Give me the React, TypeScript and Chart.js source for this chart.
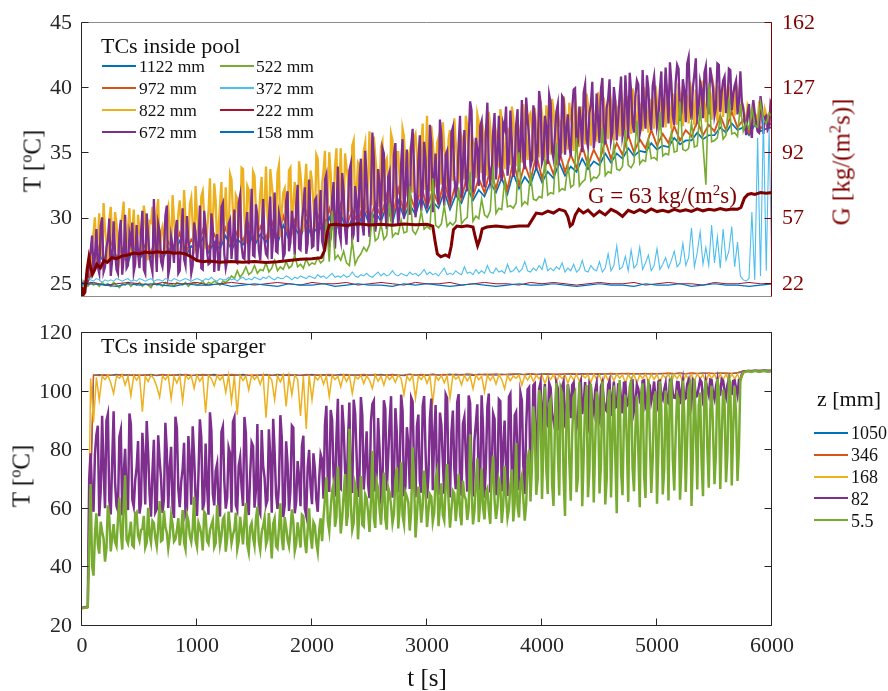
import React, { useEffect, useRef } from 'react';
import { Chart, registerables } from 'chart.js';
Chart.register(...registerables);

const FONT = "'Liberation Serif', 'Times New Roman', serif";

// sampling steps of the recorded signals [s]
const DT_FINE = 25;
const DT_MID = 50;
const DT_COARSE = 100;

// ---------- TCs inside pool (°C) ----------
const poolLabels = ['1122 mm', '972 mm', '822 mm', '672 mm', '522 mm', '372 mm', '222 mm', '158 mm'];
const poolColors = ['#0072BD', '#D95319', '#EDB120', '#7E2F8E', '#77AC30', '#4DBEEE', '#A2142F', '#0072BD'];
const poolWidths = [1.7, 1.9, 2.3, 2.3, 1.6, 1.1, 1, 1.2];

// step DT_MID
const pool1122 = [
  25.0, 25.1, 26.2, 27.3, 26.5, 27.6, 26.7, 27.2, 26.6, 27.9,
  26.9, 27.5, 27.0, 28.0, 26.9, 27.7, 27.3, 28.3, 27.1, 27.9,
  27.5, 28.5, 27.4, 28.2, 27.7, 28.7, 27.6, 28.4, 28.0, 29.0,
  27.9, 28.8, 28.2, 29.2, 28.1, 29.5, 28.4, 29.3, 28.6, 29.8,
  28.5, 29.6, 28.9, 30.1, 28.8, 30.4, 29.1, 30.0, 29.3, 30.7,
  29.5, 30.5, 29.8, 31.0, 29.7, 31.4, 30.1, 31.1, 30.3, 31.7,
  30.5, 31.3, 30.8, 32.1, 30.7, 31.8, 31.2, 32.4, 31.4, 32.2,
  31.7, 32.8, 32.0, 33.1, 31.9, 33.5, 32.3, 33.2, 32.6, 33.9,
  32.8, 33.6, 33.1, 34.3, 33.3, 34.0, 33.6, 34.6, 33.8, 34.4,
  34.1, 35.0, 34.3, 35.0, 34.6, 35.4, 34.8, 35.2, 35.1, 35.8,
  35.3, 35.6, 35.5, 36.2, 35.7, 36.0, 36.0, 36.6, 36.1, 36.4,
  36.4, 37.0, 36.6, 37.3, 36.8, 37.0, 36.4, 37.2, 36.7, 36.9,
  37.0,
];
// step DT_MID
const pool972 = [
  25.1, 25.2, 26.4, 27.9, 26.8, 28.3, 27.0, 27.7, 26.9, 28.5,
  27.2, 28.0, 27.4, 28.6, 27.1, 28.2, 27.6, 28.9, 27.3, 28.4,
  27.8, 29.1, 27.7, 28.8, 28.0, 29.3, 27.9, 29.0, 28.3, 29.6,
  28.1, 29.4, 28.5, 29.8, 28.4, 30.2, 28.7, 29.9, 28.9, 30.5,
  28.8, 30.3, 29.2, 30.8, 29.0, 31.1, 29.4, 30.7, 29.6, 31.4,
  29.8, 31.2, 30.1, 31.8, 30.0, 32.3, 30.4, 31.9, 30.6, 32.6,
  30.8, 32.2, 31.1, 33.0, 31.0, 32.7, 31.5, 33.4, 31.7, 33.1,
  32.0, 33.8, 32.3, 34.0, 32.2, 34.5, 32.6, 34.2, 32.9, 34.9,
  33.1, 34.6, 33.4, 35.2, 33.6, 34.9, 33.9, 35.6, 34.1, 35.3,
  34.4, 36.0, 34.6, 35.8, 34.9, 36.4, 35.1, 36.1, 35.4, 36.8,
  35.6, 36.5, 35.8, 37.1, 36.0, 36.8, 36.3, 37.5, 36.4, 37.2,
  36.7, 37.9, 36.8, 38.2, 37.0, 37.6, 36.6, 37.9, 36.9, 37.4,
  37.2,
];
// step DT_FINE, samples at t = k*DT_FINE
const pool822 = [
  25.1, 25.0, 25.2, 26.5, 28.9, 26.6, 30.4, 27.2, 29.1, 26.8,
  30.9, 27.5, 29.6, 27.0, 30.2, 26.9, 29.3, 27.4, 30.7, 27.1,
  29.0, 27.6, 30.1, 26.8, 29.7, 27.3, 30.5, 27.0, 29.4, 27.8,
  31.0, 27.2, 29.9, 27.5, 31.4, 27.6, 30.0, 27.9, 31.6, 27.3,
  30.3, 28.0, 32.1, 27.7, 30.6, 28.2, 32.7, 27.8, 31.1, 28.4,
  32.4, 28.0, 33.0, 28.3, 31.5, 28.6, 33.8, 28.1, 32.2, 28.7,
  33.3, 28.4, 31.9, 28.9, 34.0, 28.5, 32.6, 29.0, 33.5, 28.6,
  32.0, 29.2, 33.7, 28.8, 32.8, 29.3, 33.4, 29.0, 34.2, 29.5,
  32.9, 29.2, 34.6, 29.6, 33.6, 30.0, 35.1, 29.8, 34.0, 30.3,
  35.4, 30.1, 33.9, 30.5, 35.6, 30.4, 34.3, 30.8, 35.2, 30.6,
  36.7, 31.0, 34.8, 30.9, 35.5, 31.3, 34.6, 31.1, 36.0, 31.5,
  35.1, 31.4, 36.3, 31.7, 35.2, 32.0, 36.5, 31.8, 35.6, 32.2,
  37.9, 32.1, 35.9, 32.4, 36.2, 32.6, 35.4, 32.5, 36.8, 32.9,
  35.8, 32.7, 36.4, 33.0, 37.1, 33.2, 36.0, 33.1, 37.4, 33.5,
  36.3, 33.3, 37.0, 33.7, 36.6, 33.9, 37.6, 33.8, 36.9, 34.1,
  37.8, 34.0, 36.7, 34.3, 37.3, 34.5, 38.1, 34.4, 37.0, 34.7,
  38.0, 34.6, 37.5, 34.9, 38.3, 35.1, 37.2, 35.0, 38.5, 35.3,
  37.7, 35.2, 38.2, 35.5, 37.6, 35.7, 38.7, 35.6, 37.9, 35.9,
  38.8, 35.8, 37.8, 36.1, 39.0, 36.0, 38.1, 36.3, 38.9, 36.2,
  38.0, 36.5, 39.2, 36.4, 38.4, 36.7, 39.3, 36.6, 38.2, 36.9,
  39.1, 36.8, 38.6, 37.0, 39.4, 36.9, 38.5, 37.2, 39.5, 37.1,
  38.7, 37.3, 39.6, 37.2, 38.8, 37.5, 39.7, 37.4, 38.9, 37.6,
  39.8, 37.5, 38.6, 37.8, 39.5, 37.7, 38.9, 37.9, 39.9, 37.8,
  38.6, 37.2, 38.4, 36.9, 37.8, 37.3, 38.6, 37.1, 38.0, 37.5,
  38.3,
];
// samples at t = k*DT_FINE + DT_FINE/2
const pool822b = [
  25.0, 25.1, 27.0, 27.9, 30.1, 28.4, 27.6, 31.2, 28.2, 29.9,
  28.6, 30.5, 27.7, 29.5, 31.3, 28.0, 30.8, 28.9, 27.9, 30.3,
  28.5, 31.0, 28.1, 29.8, 30.9, 27.9, 31.5, 29.0, 28.3, 30.6,
  29.2, 31.8, 28.4, 30.4, 29.7, 32.2, 28.8, 31.1, 29.5, 32.5,
  28.9, 31.7, 30.2, 29.0, 33.1, 29.6, 31.4, 29.3, 32.8, 30.0,
  29.4, 33.4, 30.5, 31.8, 29.6, 33.9, 30.1, 32.5, 29.8, 33.6,
  30.7, 29.9, 33.2, 31.0, 30.3, 33.8, 31.5, 29.8, 34.1, 30.6,
  32.3, 30.1, 33.9, 31.2, 30.4, 34.4, 31.7, 32.6, 30.5, 33.7,
  31.1, 34.9, 30.8, 32.7, 35.2, 31.4, 33.5, 30.9, 35.4, 32.0,
  31.6, 35.0, 33.1, 31.3, 36.0, 32.2, 34.1, 31.9, 35.8, 33.0,
  32.4, 36.3, 33.6, 32.1, 35.9, 34.3, 32.8, 36.5, 33.2, 35.1,
  32.9, 36.9, 33.8, 34.7, 33.0, 36.2, 34.9, 33.4, 37.3, 34.0,
  33.6, 37.1, 34.4, 35.8, 33.8, 37.4, 34.6, 36.1, 34.2, 37.7,
  34.3, 36.6, 35.2, 37.9, 34.8, 36.4, 35.6, 38.0, 34.9, 36.9,
  35.5, 38.2, 35.0, 37.3, 36.1, 38.4, 35.4, 37.0, 36.5, 38.6,
  35.8, 37.6, 36.7, 38.8, 35.9, 37.9, 36.9, 38.5, 36.2, 39.0,
  36.4, 38.7, 37.1, 39.2, 36.6, 38.3, 37.4, 39.4, 36.8, 38.9,
  37.3, 39.5, 36.9, 38.6, 37.8, 39.6, 37.2, 38.9, 38.0, 39.7,
  37.4, 39.3, 38.2, 39.8, 37.6, 39.1, 38.5, 39.9, 37.9, 39.4,
  38.6, 40.0, 37.8, 39.5, 38.7, 40.1, 38.1, 39.2, 38.9, 40.2,
  38.3, 39.7, 38.8, 40.3, 38.4, 39.6, 39.0, 40.4, 38.5, 39.8,
  39.1, 40.5, 38.6, 39.9, 39.2, 40.6, 38.7, 40.0, 39.3, 40.4,
  38.9, 40.2, 39.4, 40.7, 38.8, 40.1, 39.5, 40.3, 39.0, 38.9,
  37.8, 38.7, 37.4, 38.2, 37.9, 38.8, 37.6, 38.4, 37.7, 38.5,
];
// samples at t = k*DT_FINE
const pool672 = [
  25.1, 25.0, 25.2, 27.5, 26.0, 29.2, 25.8, 30.1, 26.3, 28.4,
  25.6, 29.8, 26.1, 28.9, 25.7, 30.3, 26.4, 28.1, 25.9, 29.5,
  26.2, 30.6, 25.8, 28.7, 26.5, 31.5, 25.9, 29.0, 26.3, 30.2,
  25.7, 28.6, 26.6, 29.9, 26.0, 30.8, 26.4, 28.3, 25.8, 29.7,
  26.7, 31.0, 26.1, 29.3, 26.5, 30.4, 25.9, 28.8, 26.8, 31.2,
  26.2, 29.6, 26.9, 30.7, 26.6, 31.8, 27.0, 29.4, 26.5, 32.3,
  27.1, 30.2, 26.8, 31.5, 27.3, 30.0, 26.9, 32.0, 27.4, 29.8,
  27.0, 31.3, 27.5, 30.6, 27.2, 32.6, 27.6, 30.9, 27.3, 33.0,
  27.8, 31.4, 27.5, 32.2, 27.8, 33.4, 28.0, 31.6, 27.7, 34.0,
  28.3, 32.1, 28.0, 33.7, 28.4, 32.5, 28.2, 34.6, 28.7, 33.0,
  28.6, 36.6, 29.0, 33.8, 29.4, 35.0, 29.2, 33.6, 29.7, 35.8,
  29.5, 34.2, 30.0, 35.3, 30.3, 36.9, 30.1, 34.5, 30.6, 35.9,
  30.8, 37.2, 30.5, 35.0, 31.1, 36.4, 31.0, 35.2, 31.5, 37.0,
  31.7, 35.7, 31.6, 36.8, 32.1, 39.0, 32.0, 36.2, 32.5, 37.5,
  32.4, 38.9, 32.8, 36.6, 33.0, 37.9, 32.9, 36.9, 33.3, 38.3,
  33.2, 37.2, 33.6, 39.1, 33.8, 37.6, 34.0, 38.7, 33.8, 39.8,
  34.3, 37.9, 34.2, 38.9, 34.6, 38.2, 34.5, 39.4, 34.9, 38.0,
  34.8, 39.9, 35.2, 38.6, 35.1, 40.3, 35.5, 38.8, 35.4, 39.6,
  35.8, 40.8, 35.7, 39.2, 36.0, 40.1, 36.0, 39.5, 36.3, 41.0,
  36.2, 39.8, 36.6, 40.6, 36.5, 41.4, 36.9, 40.0, 36.8, 40.9,
  37.1, 39.9, 37.0, 41.6, 37.3, 40.4, 37.2, 41.8, 37.5, 40.7,
  37.4, 42.4, 37.6, 41.1, 37.8, 40.5, 37.7, 41.7, 38.0, 40.8,
  37.9, 41.9, 38.2, 40.6, 38.1, 41.5, 38.3, 40.2, 38.0, 41.3,
  38.4, 36.4, 38.8, 36.2, 38.1, 36.7, 39.4, 36.5, 37.9, 37.0,
  38.6,
];
// samples at t = k*DT_FINE + DT_FINE/2
const pool672b = [
  25.0, 25.1, 26.8, 28.7, 27.1, 26.3, 29.4, 25.9, 27.8, 30.0,
  26.8, 27.5, 25.8, 29.9, 27.0, 26.2, 28.8, 29.7, 26.5, 27.3,
  28.9, 26.1, 30.4, 27.2, 25.9, 28.2, 29.6, 26.7, 27.4, 31.0,
  26.3, 27.9, 29.1, 25.8, 28.4, 26.9, 30.2, 27.6, 26.4, 29.0,
  28.1, 26.2, 30.6, 27.5, 26.6, 29.3, 28.0, 26.0, 30.9, 27.3,
  26.8, 29.9, 28.4, 26.7, 31.2, 27.9, 26.9, 30.5, 28.8, 27.2,
  31.1, 27.6, 29.0, 28.3, 27.1, 31.7, 28.6, 27.5, 30.4, 29.1,
  27.3, 32.1, 28.2, 29.5, 31.0, 27.7, 29.8, 32.4, 28.1, 30.2,
  27.9, 31.6, 29.4, 28.3, 33.0, 29.7, 28.5, 32.8, 30.1, 28.9,
  33.5, 29.2, 30.8, 34.2, 28.8, 31.4, 33.1, 29.6, 35.2, 30.3,
  31.9, 34.7, 29.8, 32.6, 35.4, 30.5, 33.2, 29.9, 34.9, 31.6,
  30.7, 36.1, 32.4, 31.0, 35.6, 33.9, 31.2, 36.4, 32.0, 34.6,
  31.5, 35.8, 33.4, 32.1, 37.6, 32.8, 34.9, 31.9, 36.6, 33.3,
  32.6, 37.9, 34.1, 32.9, 36.1, 38.3, 33.5, 35.4, 37.1, 33.1,
  36.7, 34.2, 33.4, 38.1, 35.0, 33.7, 37.3, 38.6, 34.4, 36.0,
  33.9, 38.4, 35.6, 34.6, 39.3, 36.3, 34.5, 37.8, 35.1, 38.9,
  34.7, 37.1, 39.5, 35.2, 36.5, 38.8, 35.0, 39.2, 36.9, 35.6,
  38.4, 40.0, 35.9, 37.4, 39.7, 36.1, 38.1, 40.5, 36.4, 37.6,
  39.9, 36.8, 38.5, 40.7, 36.6, 39.0, 37.7, 40.9, 36.9, 38.8,
  41.2, 37.3, 39.4, 40.3, 37.1, 38.6, 41.0, 37.6, 40.2, 39.1,
  37.8, 41.3, 38.9, 39.6, 42.0, 37.9, 40.5, 41.5, 38.2, 39.8,
  41.9, 38.6, 40.1, 42.3, 38.4, 39.9, 41.2, 38.7, 41.6, 40.0,
  38.5, 41.8, 39.7, 40.9, 38.8, 41.4, 39.5, 40.6, 38.9, 39.0,
  37.5, 38.0, 36.9, 39.1, 37.3, 36.6, 38.5, 37.8, 36.8, 38.9,
];
// step DT_FINE
const pool522 = [
  24.9, 25.0, 24.8, 25.1, 24.9, 25.0, 24.8, 25.1, 24.9, 25.0,
  24.8, 25.1, 24.9, 24.7, 25.0, 24.9, 25.1, 24.8, 25.0, 24.9,
  25.1, 24.8, 25.0, 24.9, 24.7, 25.1, 24.9, 25.0, 24.8, 25.1,
  24.9, 25.0, 24.8, 25.1, 25.0, 24.9, 25.1, 24.8, 25.0, 25.1,
  24.9, 25.0, 25.2, 24.9, 25.1, 25.0, 25.2, 25.1, 24.9, 25.2,
  25.1, 25.3, 25.6, 25.4, 26.0, 25.5, 25.8, 26.3, 25.7, 25.9,
  26.4, 25.8, 26.1, 26.0, 26.6, 25.9, 26.2, 26.8, 26.0, 26.3,
  26.1, 26.7, 26.2, 26.4, 27.2, 26.3, 26.5, 26.2, 26.9, 26.4,
  26.6, 26.5, 27.0, 26.6, 26.8, 29.8, 26.7, 30.6, 26.9, 27.2,
  26.8, 27.5, 26.6, 26.4, 28.3, 26.5, 27.0, 27.3, 27.8, 27.5,
  28.0, 30.2, 28.3, 28.5, 29.6, 28.4, 28.7, 31.2, 28.6, 28.9,
  28.8, 29.9, 28.9, 29.0, 32.5, 29.1, 28.8, 29.3, 30.6, 29.2,
  29.4, 29.2, 33.1, 29.5, 29.3, 29.6, 31.0, 29.4, 29.7, 29.5,
  29.8, 32.4, 29.6, 29.9, 30.1, 33.6, 29.8, 30.2, 30.0, 31.5,
  30.3, 30.1, 30.6, 34.0, 30.4, 30.8, 30.7, 32.9, 30.9, 31.0,
  30.8, 31.2, 35.1, 31.0, 31.3, 31.1, 33.4, 31.5, 31.4, 31.7,
  31.6, 34.6, 31.8, 32.0, 31.9, 35.8, 32.1, 32.3, 32.2, 34.1,
  32.4, 32.6, 36.2, 32.5, 32.8, 33.0, 34.9, 32.9, 33.2, 33.1,
  33.4, 37.0, 33.3, 33.6, 33.5, 35.7, 33.8, 33.7, 34.0, 36.8,
  34.1, 33.9, 34.3, 37.5, 34.2, 34.5, 34.4, 36.1, 34.6, 34.7,
  34.5, 38.2, 34.8, 35.0, 34.9, 36.6, 35.1, 35.2, 39.0, 35.3,
  35.2, 35.4, 37.4, 35.5, 35.6, 38.6, 35.7, 32.6, 40.4, 35.9,
  36.0, 36.2, 37.8, 36.1, 36.4, 39.3, 36.5, 36.6, 36.3, 38.8,
  36.7, 37.4, 36.9, 38.5, 37.2, 37.0, 38.9, 37.6, 37.3, 38.1,
  37.8,
];
// step DT_FINE
const pool372 = [
  25.3, 25.2, 25.4, 25.3, 25.2, 25.4, 25.3, 25.1, 25.3, 25.2,
  25.3, 25.2, 25.4, 25.3, 25.2, 25.3, 25.4, 25.2, 25.3, 25.2,
  25.4, 25.3, 25.2, 25.3, 25.4, 25.2, 25.3, 25.3, 25.2, 25.4,
  25.3, 25.2, 25.4, 25.3, 25.2, 25.3, 25.4, 25.3, 25.2, 25.3,
  25.4, 25.3, 25.2, 25.4, 25.3, 25.5, 25.3, 25.2, 25.4, 25.3,
  25.3, 25.5, 25.3, 25.4, 25.2, 25.4, 25.5, 25.3, 25.4, 25.3,
  25.5, 25.4, 25.3, 25.5, 25.4, 25.6, 25.4, 25.3, 25.5, 25.4,
  25.4, 25.6, 25.5, 25.3, 25.5, 25.4, 25.6, 25.5, 25.4, 25.6,
  25.5, 25.4, 25.7, 25.5, 25.6, 25.4, 25.6, 25.8, 25.5, 25.6,
  25.5, 25.7, 25.5, 25.6, 25.9, 25.6, 25.5, 25.7, 25.6, 25.8,
  25.6, 25.5, 25.7, 25.9, 25.6, 25.8, 25.6, 25.7, 26.0, 25.7,
  25.6, 25.8, 25.7, 25.6, 25.9, 25.7, 25.8, 25.6, 25.8, 26.1,
  25.7, 25.9, 25.7, 25.8, 25.6, 25.9, 26.2, 25.7, 25.8, 25.7,
  26.0, 25.8, 25.7, 26.3, 25.8, 25.9, 25.7, 26.1, 25.8, 26.0,
  25.8, 26.4, 25.9, 25.8, 26.2, 25.9, 26.0, 25.8, 26.5, 25.9,
  26.0, 26.3, 25.9, 26.1, 26.7, 26.0, 25.9, 26.2, 26.0, 26.4,
  26.1, 26.9, 26.0, 26.2, 26.0, 26.3, 26.1, 26.6, 25.9, 26.2,
  26.0, 26.5, 25.9, 26.1, 26.8, 26.0, 25.9, 26.4, 26.1, 26.0,
  26.7, 25.9, 26.2, 27.3, 26.0, 26.4, 27.9, 26.1, 26.3, 27.1,
  26.0, 27.6, 26.2, 26.5, 27.8, 26.1, 26.6, 27.2, 26.0, 26.4,
  27.7, 26.1, 26.5, 27.0, 26.2, 26.8, 27.5, 26.3, 26.6, 28.1,
  26.4, 27.0, 29.3, 26.3, 27.4, 29.0, 26.5, 27.8, 26.4, 29.5,
  26.6, 28.6, 26.2, 29.2, 26.8, 27.5, 29.4, 26.3, 28.2, 25.6,
  25.3, 25.2, 25.4, 30.5, 25.3, 36.2, 25.6, 37.8, 26.0, 36.9,
  25.4,
];
// step DT_COARSE
const pool222 = [
  25.0, 25.1, 24.9, 25.0, 25.1, 25.0, 24.9, 25.1, 25.0, 25.0,
  25.1, 24.9, 25.0, 25.1, 25.0, 24.9, 25.0, 25.1, 25.0, 24.9,
  25.1, 25.0, 25.0, 25.1, 24.9, 25.0, 25.1, 25.0, 24.9, 25.1,
  25.0, 25.0, 25.1, 24.9, 25.0, 25.1, 25.0, 25.0, 24.9, 25.1,
  25.0, 25.1, 25.0, 24.9, 25.0, 25.1, 25.0, 25.0, 25.1, 24.9,
  25.0, 25.1, 25.0, 25.0, 24.9, 25.1, 25.0, 25.0, 25.1, 25.0,
  25.0,
];
// step DT_COARSE
const pool158 = [
  24.9, 25.0, 24.9, 24.8, 25.0, 24.9, 25.0, 24.9, 24.8, 25.0,
  24.9, 24.9, 25.0, 24.8, 24.9, 25.0, 24.9, 24.8, 25.0, 24.9,
  24.9, 25.0, 24.8, 24.9, 25.0, 24.9, 24.9, 24.8, 25.0, 24.9,
  25.0, 24.9, 24.8, 24.9, 25.0, 24.9, 24.8, 24.9, 25.0, 24.9,
  24.9, 25.0, 24.9, 24.8, 24.9, 25.0, 24.9, 24.9, 24.8, 25.0,
  24.9, 24.9, 25.0, 24.8, 24.9, 25.0, 24.9, 24.9, 24.8, 24.9,
  25.0,
];

// ---------- steam mass flux G [kg/(m2 s)] ----------
const gTime = [
  0, 10, 25, 45, 60, 75, 90, 110, 130, 160, 190, 220, 260, 300, 350, 400, 450, 500, 550, 600,
  650, 700, 750, 800, 850, 900, 950, 1000, 1050, 1100, 1200, 1300, 1400, 1500, 1600, 1700, 1800, 1900, 2000, 2080,
  2110, 2130, 2150, 2200, 2300, 2400, 2500, 2600, 2700, 2800, 2900, 3000, 3050, 3070, 3090, 3120, 3160, 3190, 3210, 3230,
  3260, 3300, 3350, 3400, 3420, 3440, 3460, 3480, 3520, 3600, 3700, 3800, 3880, 3920, 3950, 4000, 4050, 4100, 4150, 4200,
  4225, 4245, 4265, 4290, 4320, 4360, 4400, 4450, 4500, 4550, 4600, 4650, 4700, 4750, 4800, 4850, 4900, 4950, 5000, 5050,
  5100, 5150, 5200, 5250, 5300, 5350, 5400, 5450, 5500, 5550, 5600, 5650, 5700, 5730, 5760, 5790, 5820, 5850, 5900, 5950,
  6000,
];
const gFlux = [
  20.5, 16.0, 17.5, 30.0, 36.0, 31.0, 27.0, 29.5, 32.5, 30.5, 34.5, 33.5, 36.0, 35.5, 37.0, 37.5, 38.5, 38.0, 39.0, 38.6,
  39.2, 38.8, 39.0, 38.4, 38.7, 38.0, 36.5, 34.5, 33.8, 34.2, 33.6, 34.0, 33.5, 33.9, 33.4, 33.8, 34.5, 35.2, 35.5, 36.0,
  40.0, 49.0, 53.5, 54.0, 53.3, 54.2, 53.6, 54.0, 53.4, 54.1, 53.7, 54.0, 53.0, 45.0, 38.0, 36.5, 37.5, 36.5, 42.0, 51.0,
  53.0, 52.6, 53.2, 52.5, 47.0, 42.5, 46.0, 51.5, 52.5, 53.0, 52.4, 53.1, 53.0, 57.0, 60.0, 59.5, 61.0, 60.0, 62.0, 61.0,
  58.0, 53.0, 54.0, 59.0, 62.0, 60.0, 61.5, 58.5, 61.0, 59.0, 62.0, 60.5, 58.2, 61.5, 60.2, 61.8, 60.4, 62.2, 60.8, 61.5,
  60.6, 62.0, 61.0, 61.8, 60.9, 62.3, 61.2, 62.0, 61.5, 62.4, 61.6, 62.2, 62.0, 63.0, 68.0, 70.0, 70.5, 70.0, 71.0, 70.6,
  71.0,
];

// ---------- TCs inside sparger (°C) ----------
const spargerLabels = ['1050', '346', '168', '82', '5.5'];
const spargerColors = ['#0072BD', '#D95319', '#EDB120', '#7E2F8E', '#77AC30'];
const spargerWidths = [1.3, 1.3, 1.5, 2.5, 2.5];

// step DT_MID
const sp1050 = [
  26.1, 26.4, 105.6, 105.8, 105.5, 105.7, 105.9, 105.6, 105.8, 105.5,
  105.7, 105.6, 105.9, 105.5, 105.8, 105.7, 105.6, 105.9, 105.7, 105.5,
  105.8, 105.6, 105.7, 105.9, 105.5, 105.8, 105.6, 105.7, 105.9, 105.6,
  105.5, 105.8, 105.7, 105.6, 105.9, 105.7, 105.5, 105.8, 105.6, 105.7,
  105.9, 105.6, 105.8, 105.5, 105.7, 105.9, 105.6, 105.8, 105.7, 105.5,
  105.8, 105.7, 105.9, 105.6, 105.8, 105.7, 105.5, 105.9, 105.7, 105.8,
  105.6, 105.9, 105.7, 105.8, 106.0, 105.7, 105.9, 105.8, 105.6, 106.0,
  105.8, 105.9, 105.7, 106.0, 105.8, 105.9, 106.1, 105.8, 106.0, 105.9,
  106.1, 105.9, 106.0, 105.8, 106.1, 106.0, 105.9, 106.2, 106.0, 106.1,
  105.9, 106.2, 106.0, 106.1, 106.3, 106.0, 106.2, 106.1, 106.3, 106.0,
  106.2, 106.3, 106.1, 106.2, 106.4, 106.1, 106.3, 106.2, 106.4, 106.2,
  106.3, 106.4, 106.2, 106.3, 106.4, 107.0, 107.2, 107.3, 107.2, 107.4,
  107.3,
];
// step DT_MID
const sp346 = [
  26.0, 26.2, 105.7, 105.5, 105.8, 105.6, 105.7, 105.9, 105.5, 105.8,
  105.6, 105.8, 105.5, 105.7, 105.9, 105.6, 105.8, 105.5, 105.9, 105.7,
  105.6, 105.9, 105.8, 105.5, 105.7, 105.6, 105.9, 105.8, 105.5, 105.7,
  105.8, 105.6, 105.9, 105.7, 105.5, 105.8, 105.9, 105.6, 105.7, 105.9,
  105.6, 105.8, 105.7, 105.9, 105.6, 105.7, 105.9, 105.6, 105.8, 105.9,
  105.7, 105.9, 105.6, 105.8, 105.9, 105.7, 105.8, 106.0, 105.7, 105.9,
  105.8, 106.0, 105.8, 105.9, 105.7, 106.0, 105.8, 106.1, 105.9, 105.8,
  106.0, 105.9, 106.1, 105.8, 106.0, 106.1, 105.9, 106.0, 106.2, 105.9,
  106.0, 106.2, 105.9, 106.1, 106.0, 106.2, 106.1, 105.9, 106.2, 106.1,
  106.2, 106.0, 106.3, 106.1, 106.2, 106.3, 106.1, 106.2, 106.0, 106.3,
  106.1, 106.2, 106.4, 106.2, 106.3, 106.2, 106.4, 106.3, 106.2, 106.4,
  106.2, 106.3, 106.4, 106.2, 106.5, 107.1, 107.3, 107.2, 107.4, 107.3,
  107.4,
];
// step DT_FINE
const sp168 = [
  26.0, 26.3, 26.5, 104.6, 89.5, 104.9, 97.2, 105.3, 104.2, 105.6,
  103.1, 99.4, 105.4, 104.6, 105.7, 102.3, 105.2, 98.6, 105.5, 104.0,
  105.6, 93.2, 105.3, 103.5, 105.7, 104.4, 101.8, 98.2, 105.4, 104.1,
  105.6, 97.7, 105.2, 103.0, 105.5, 96.8, 105.6, 104.3, 105.4, 101.2,
  105.7, 103.6, 105.2, 92.8, 105.5, 104.5, 102.0, 105.6, 104.0, 105.3,
  99.8, 105.7, 96.7, 105.4, 92.2, 105.6, 103.8, 105.3, 100.6, 105.7,
  104.2, 105.4, 102.5, 105.6, 91.1, 105.3, 104.1, 97.2, 105.5, 103.4,
  105.7, 95.0, 105.2, 99.0, 105.6, 104.3, 91.7, 105.4, 87.3, 105.6,
  97.3, 105.2, 104.0, 105.7, 102.6, 105.4, 98.3, 105.6, 104.2, 105.3,
  101.7, 105.7, 103.5, 105.5, 99.4, 105.2, 104.4, 105.6, 102.8, 105.4,
  104.0, 101.1, 105.7, 103.6, 105.3, 102.3, 105.6, 104.1, 105.4, 103.2,
  105.7, 104.5, 99.0, 105.3, 103.8, 105.6, 97.8, 105.4, 104.2, 105.7,
  102.9, 105.5, 96.1, 105.3, 104.0, 105.6, 103.1, 105.4, 97.8, 105.7,
  104.3, 105.2, 102.4, 105.6, 103.7, 105.4, 101.0, 105.7, 104.1, 105.3,
  99.9, 105.6, 103.9, 105.5, 102.6, 105.8, 104.2, 101.0, 105.6, 103.8,
  105.4, 104.6, 105.7, 102.3, 105.5, 104.0, 105.8, 103.5, 105.6, 104.4,
  105.7, 102.8, 105.5, 104.2, 105.8, 103.3, 105.6, 104.5, 105.8, 102.9,
  105.6, 104.1, 105.9, 103.6, 105.7, 104.7, 105.8, 103.2, 105.9, 104.4,
  105.7, 102.7, 105.9, 104.0, 105.8, 103.8, 106.0, 104.6, 105.8, 103.1,
  105.9, 104.3, 106.0, 102.9, 105.8, 104.5, 106.0, 103.6, 105.9, 104.2,
  106.0, 103.0, 105.8, 104.7, 106.0, 103.4, 105.9, 104.5, 106.1, 102.8,
  105.9, 104.1, 106.0, 103.7, 106.1, 104.4, 105.9, 103.2, 106.1, 104.6,
  106.0, 103.5, 106.1, 104.2, 105.9, 103.9, 106.1, 104.5, 106.0, 103.4,
  106.2, 107.0, 107.1, 107.2, 107.0, 107.2, 107.1, 107.3, 107.2, 107.1,
  107.3,
];
// samples at t = k*DT_FINE
const sp82 = [
  26.2, 26.4, 26.6, 79.0, 59.0, 85.3, 57.5, 91.8, 60.2, 92.3,
  58.1, 93.3, 61.0, 84.7, 57.8, 80.5, 59.6, 88.9, 60.8, 74.2,
  58.4, 86.0, 61.5, 79.3, 57.3, 83.6, 59.9, 76.8, 58.6, 89.4,
  60.3, 81.2, 56.9, 87.5, 60.6, 73.5, 58.2, 84.9, 61.4, 78.0,
  57.6, 90.6, 59.5, 82.3, 58.0, 86.7, 61.2, 75.4, 57.4, 88.1,
  60.1, 80.9, 58.8, 91.2, 59.7, 77.6, 61.0, 85.8, 57.9, 82.7,
  60.4, 89.0, 58.3, 74.8, 61.3, 87.2, 58.7, 79.5, 60.0, 92.0,
  57.2, 83.1, 59.3, 88.4, 58.5, 76.3, 60.9, 85.0, 57.7, 80.2,
  61.6, 73.8, 59.0, 78.6, 63.5, 95.2, 65.8, 90.4, 64.2, 97.6,
  66.9, 88.1, 63.9, 96.3, 65.4, 92.7, 64.1, 98.2, 66.6, 86.5,
  63.7, 95.8, 65.9, 91.0, 64.6, 97.1, 66.2, 89.6, 63.8, 94.4,
  65.7, 99.0, 64.3, 87.9, 66.8, 96.7, 64.0, 92.2, 65.5, 98.5,
  63.6, 90.8, 66.4, 95.5, 64.8, 88.7, 65.2, 97.9, 63.9, 93.6,
  66.7, 99.2, 64.5, 91.4, 65.9, 96.0, 64.2, 89.3, 66.3, 98.8,
  63.8, 94.9, 65.6, 92.5, 64.7, 97.4, 66.0, 90.2, 64.4, 99.3,
  65.3, 93.1, 66.5, 97.0, 65.1, 100.8, 68.0, 102.2, 72.5, 101.0,
  84.0, 102.6, 88.5, 101.4, 90.2, 103.0, 86.8, 101.8, 89.5, 102.5,
  91.0, 103.1, 87.6, 102.0, 92.4, 103.3, 88.9, 101.6, 93.0, 102.9,
  90.3, 103.4, 94.1, 102.2, 91.7, 103.5, 95.0, 102.7, 92.6, 103.2,
  96.0, 103.6, 93.5, 102.4, 97.2, 103.7, 94.8, 103.0, 96.6, 103.5,
  95.3, 103.8, 97.5, 102.9, 96.1, 103.9, 98.0, 103.3, 95.8, 103.7,
  97.8, 104.0, 96.4, 103.5, 98.6, 104.1, 97.0, 103.6, 98.9, 104.0,
  97.5, 104.2, 99.0, 103.8, 98.2, 104.3, 99.4, 103.9, 98.8, 104.1,
  106.8, 107.0, 107.1, 107.0, 107.2, 107.1, 107.0, 107.2, 107.1, 107.0,
  107.2,
];
// samples at t = k*DT_FINE + DT_FINE/2
const sp82b = [
  26.3, 26.5, 70.0, 64.2, 78.6, 88.4, 66.0, 73.5, 90.1, 62.8,
  76.2, 68.9, 59.4, 87.0, 71.8, 64.5, 92.6, 63.1, 69.7, 83.2,
  61.9, 77.4, 90.0, 65.3, 72.6, 58.8, 85.1, 70.2, 63.4, 79.9,
  74.1, 60.7, 91.5, 66.8, 69.2, 82.6, 59.9, 76.7, 88.2, 64.0,
  71.4, 84.3, 62.6, 67.9, 93.0, 65.1, 73.0, 60.2, 86.3, 69.5,
  63.8, 78.9, 89.7, 61.4, 74.6, 67.3, 91.4, 62.0, 72.1, 81.5,
  66.4, 59.6, 86.9, 70.7, 63.0, 77.8, 90.8, 64.9, 68.3, 84.0,
  61.1, 75.5, 66.2, 87.7, 62.3, 71.0, 81.4, 60.0, 74.2, 67.6,
  79.0, 63.2, 70.4, 76.9, 88.6, 69.0, 93.8, 71.5, 84.4, 67.5,
  95.5, 73.2, 82.7, 68.1, 97.3, 78.8, 70.6, 91.9, 75.1, 68.7,
  89.8, 96.9, 72.0, 80.3, 67.4, 94.1, 77.6, 98.5, 69.9, 85.9,
  74.4, 93.5, 67.8, 81.9, 98.0, 72.7, 88.3, 69.3, 95.1, 79.4,
  71.2, 97.7, 84.8, 68.4, 92.9, 76.1, 99.1, 70.0, 86.2, 73.7,
  96.4, 68.2, 89.1, 78.3, 98.7, 71.7, 83.5, 95.7, 69.6, 87.4,
  75.8, 99.4, 72.3, 90.7, 68.9, 96.8, 80.9, 73.9, 98.3, 70.8,
  92.0, 77.2, 99.6, 74.8, 88.0, 101.5, 79.6, 102.8, 86.1, 103.2,
  95.4, 89.3, 102.9, 92.8, 87.2, 101.1, 94.3, 103.4, 90.9, 98.7,
  102.3, 93.8, 89.9, 103.6, 96.2, 91.3, 102.8, 95.6, 100.4, 92.1,
  101.9, 96.9, 93.4, 103.7, 98.1, 94.6, 102.5, 97.4, 103.1, 95.2,
  99.6, 103.8, 96.3, 101.0, 98.4, 103.9, 95.9, 102.1, 99.2, 97.0,
  103.5, 98.8, 100.7, 96.7, 104.0, 99.5, 97.9, 103.2, 100.2, 97.3,
  102.6, 99.8, 104.1, 98.3, 101.4, 103.3, 98.5, 100.9, 104.2, 99.3,
  101.7, 98.6, 104.3, 100.3, 102.4, 99.7, 103.7, 101.2, 104.0, 106.0,
  106.9, 107.1, 107.0, 107.1, 107.2, 107.0, 107.1, 107.2, 107.0, 107.1,
];
// samples at t = k*DT_FINE
const sp5_5 = [
  26.0, 26.2, 26.5, 68.5, 37.2, 58.5, 44.7, 52.3, 42.0, 61.2,
  45.5, 54.8, 47.3, 63.8, 46.1, 71.5, 48.2, 55.6, 47.0, 58.9,
  49.1, 53.2, 46.8, 60.4, 48.5, 55.1, 47.2, 62.7, 49.4, 54.0,
  46.6, 57.8, 48.9, 52.6, 47.5, 59.6, 46.3, 55.9, 48.7, 64.1,
  47.0, 53.7, 45.8, 58.2, 48.1, 54.5, 46.9, 61.3, 47.6, 56.4,
  45.4, 59.1, 48.3, 53.0, 46.2, 57.3, 47.9, 62.0, 45.2, 55.2,
  47.4, 60.7, 46.0, 54.1, 47.7, 58.6, 43.1, 56.7, 46.5, 61.9,
  45.9, 53.9, 47.2, 59.8, 45.6, 55.4, 46.8, 57.5, 44.9, 60.2,
  46.4, 54.3, 45.3, 56.8, 57.0, 70.8, 52.4, 66.1, 53.9, 74.5,
  51.6, 64.8, 54.2, 87.4, 52.8, 68.3, 49.6, 71.2, 54.0, 63.7,
  52.1, 79.8, 53.5, 66.9, 54.6, 72.4, 52.9, 65.5, 55.1, 69.8,
  53.3, 76.0, 54.8, 64.2, 52.6, 81.0, 50.2, 67.6, 55.3, 73.1,
  53.8, 65.0, 55.6, 70.4, 54.1, 68.7, 56.0, 75.3, 53.6, 66.2,
  55.8, 71.9, 54.4, 64.6, 56.2, 85.5, 54.7, 69.1, 55.5, 73.8,
  56.4, 67.0, 54.9, 78.2, 56.6, 70.0, 55.2, 74.7, 56.9, 68.4,
  55.7, 82.5, 57.1, 71.3, 56.0, 76.6, 62.5, 95.0, 64.8, 100.6,
  63.4, 101.8, 65.1, 97.2, 61.0, 103.0, 64.6, 99.5, 57.6, 102.4,
  62.8, 98.3, 65.7, 103.3, 60.9, 96.8, 64.0, 102.7, 62.2, 100.1,
  65.3, 103.5, 61.5, 97.9, 63.9, 102.1, 58.5, 104.0, 64.7, 99.0,
  62.4, 103.2, 66.0, 98.6, 60.6, 102.9, 63.7, 104.1, 65.4, 97.5,
  61.8, 103.6, 64.9, 100.4, 62.9, 104.2, 66.3, 98.9, 63.1, 103.8,
  65.8, 101.3, 61.0, 104.3, 66.6, 99.7, 64.3, 103.9, 67.2, 102.0,
  68.4, 104.4, 66.8, 100.8, 69.1, 104.5, 68.0, 101.9, 69.5, 104.2,
  106.6, 106.9, 107.0, 106.8, 107.1, 107.0, 106.9, 107.1, 107.0, 106.9,
  107.1,
];
// samples at t = k*DT_FINE + DT_FINE/2
const sp5_5b = [
  26.1, 26.3, 48.0, 40.5, 51.2, 47.9, 55.6, 49.8, 46.4, 57.1,
  50.3, 48.7, 56.2, 52.4, 60.9, 49.5, 51.7, 47.6, 58.3, 50.9,
  52.8, 57.6, 48.4, 51.0, 55.9, 50.1, 53.6, 49.0, 59.4, 51.8,
  50.5, 54.9, 49.7, 56.8, 52.2, 48.6, 57.9, 50.7, 53.1, 49.3,
  55.3, 51.4, 59.0, 49.1, 52.6, 56.1, 48.3, 54.2, 50.6, 57.4,
  49.9, 53.5, 51.1, 58.7, 48.8, 52.9, 55.7, 47.8, 53.8, 50.2,
  56.5, 48.9, 52.0, 57.0, 49.6, 51.3, 55.0, 47.3, 53.3, 50.0,
  57.2, 49.4, 52.5, 55.8, 48.1, 51.6, 58.0, 49.2, 53.0, 50.8,
  55.4, 48.5, 52.7, 49.0, 63.5, 55.9, 60.2, 68.4, 57.3, 62.9,
  56.8, 71.9, 58.4, 61.7, 55.2, 66.0, 59.5, 54.6, 64.9, 58.9,
  62.4, 57.0, 69.2, 59.8, 63.6, 56.7, 67.3, 61.1, 58.2, 74.2,
  60.5, 57.8, 65.6, 62.1, 59.0, 70.1, 57.5, 63.8, 60.8, 66.7,
  59.3, 64.2, 58.6, 72.8, 61.4, 57.9, 67.9, 62.6, 59.7, 65.3,
  61.8, 58.5, 69.6, 63.2, 60.1, 66.5, 59.2, 77.3, 62.3, 60.4,
  65.8, 59.6, 71.4, 62.8, 60.7, 68.0, 61.2, 64.5, 59.9, 73.5,
  62.0, 60.9, 69.0, 63.5, 61.6, 80.2, 75.0, 88.6, 70.3, 97.9,
  82.1, 73.6, 95.8, 68.7, 88.9, 79.4, 101.2, 71.0, 92.4, 76.5,
  85.7, 99.6, 70.8, 91.1, 78.1, 102.3, 73.3, 89.2, 81.7, 97.0,
  75.2, 93.6, 70.1, 100.8, 83.9, 77.7, 96.5, 72.6, 90.3, 82.8,
  101.7, 74.0, 87.5, 79.8, 98.4, 71.9, 92.7, 84.6, 76.8, 100.2,
  80.5, 94.4, 73.4, 89.6, 102.6, 77.0, 85.2, 97.6, 74.7, 91.8,
  83.3, 102.8, 78.6, 88.1, 95.3, 76.2, 99.9, 81.0, 93.2, 86.4,
  79.1, 101.0, 84.1, 96.1, 78.9, 103.1, 87.0, 92.0, 80.6, 105.5,
  106.8, 107.0, 106.9, 107.1, 107.0, 106.8, 107.1, 107.0, 106.9, 107.0,
];

// ---------- axis ticks ----------
const poolTicks = [25, 30, 35, 40, 45];
const gTicks = [22, 57, 92, 127, 162];
const spargerTicks = [20, 40, 60, 80, 100, 120];
const timeTicks = [0, 1000, 2000, 3000, 4000, 5000, 6000];

const G_COLOR = '#800000';
const AXIS_COLOR = '#262626';

// build {x,y} points from a uniformly sampled record, optionally interleaving
// a second record sampled half a step later
const toXY = (vals: number[], dt: number, half?: number[]) => {
  const pts: { x: number; y: number }[] = [];
  vals.forEach((v, i) => {
    pts.push({ x: i * dt, y: v });
    if (half && i < half.length) pts.push({ x: i * dt + dt / 2, y: half[i] });
  });
  return pts;
};

const poolSeries = [
  { data: pool1122, dt: DT_MID },
  { data: pool972, dt: DT_MID },
  { data: pool822, dt: DT_FINE, half: pool822b },
  { data: pool672, dt: DT_FINE, half: pool672b },
  { data: pool522, dt: DT_FINE },
  { data: pool372, dt: DT_FINE },
  { data: pool222, dt: DT_COARSE },
  { data: pool158, dt: DT_COARSE },
];
const spargerSeries = [
  { data: sp1050, dt: DT_MID },
  { data: sp346, dt: DT_MID },
  { data: sp168, dt: DT_FINE },
  { data: sp82, dt: DT_FINE, half: sp82b },
  { data: sp5_5, dt: DT_FINE, half: sp5_5b },
];

const crisp = (v: number) => Math.round(v) - 0.5;

const poolFrame = {
  id: 'poolFrame',
  afterDatasetsDraw(chart: any) {
    const { ctx, chartArea } = chart;
    const L = crisp(chartArea.left), R = crisp(chartArea.right);
    const T = crisp(chartArea.top), B = crisp(chartArea.bottom);
    ctx.save();
    ctx.lineWidth = 1;
    ctx.strokeStyle = '#8c8c8c';
    ctx.beginPath();
    ctx.moveTo(L, T); ctx.lineTo(R, T);
    ctx.moveTo(L, B); ctx.lineTo(R, B);
    ctx.stroke();
    ctx.strokeStyle = AXIS_COLOR;
    ctx.beginPath();
    ctx.moveTo(L, T); ctx.lineTo(L, B);
    for (const v of poolTicks) {
      const y = crisp(chart.scales.y.getPixelForValue(v));
      ctx.moveTo(L, y); ctx.lineTo(L + 7, y);
    }
    ctx.stroke();
    ctx.strokeStyle = G_COLOR;
    ctx.beginPath();
    ctx.moveTo(R, T); ctx.lineTo(R, B);
    for (const v of gTicks) {
      const y = crisp(chart.scales.y2.getPixelForValue(v));
      ctx.moveTo(R, y); ctx.lineTo(R - 7, y);
    }
    ctx.stroke();
    ctx.restore();
  },
};

const spargerFrame = {
  id: 'spargerFrame',
  afterDatasetsDraw(chart: any) {
    const { ctx, chartArea } = chart;
    const L = crisp(chartArea.left), R = crisp(chartArea.right);
    const T = crisp(chartArea.top), B = crisp(chartArea.bottom);
    ctx.save();
    ctx.lineWidth = 1;
    ctx.strokeStyle = AXIS_COLOR;
    ctx.beginPath();
    ctx.rect(L, T, R - L, B - T);
    for (const v of timeTicks) {
      const x = crisp(chart.scales.x.getPixelForValue(v));
      ctx.moveTo(x, B); ctx.lineTo(x, B - 7);
      ctx.moveTo(x, T); ctx.lineTo(x, T + 7);
    }
    for (const v of spargerTicks) {
      const y = crisp(chart.scales.y.getPixelForValue(v));
      ctx.moveTo(L, y); ctx.lineTo(L + 7, y);
      ctx.moveTo(R, y); ctx.lineTo(R - 7, y);
    }
    ctx.stroke();
    ctx.restore();
  },
};

const tickFont = { family: FONT, size: 22 };

const Txt = ({ x, base, size, color = '#111', children }: any) => (
  <div
    style={{
      position: 'absolute', left: x, top: base - 0.8375 * size, fontFamily: FONT,
      fontSize: size, lineHeight: `${size}px`, color, whiteSpace: 'nowrap',
    }}
  >
    {children}
  </div>
);

const CTxt = ({ cx, cy, size, color = '#111', rotate = false, children }: any) => (
  <div
    style={{
      position: 'absolute', left: cx, top: cy,
      transform: `translate(-50%, -50%)${rotate ? ' rotate(-90deg)' : ''}`,
      fontFamily: FONT, fontSize: size, lineHeight: `${size}px`, color, whiteSpace: 'nowrap',
    }}
  >
    {children}
  </div>
);

const Sup = ({ children }: any) => (
  <span style={{ fontSize: '0.65em', position: 'relative', top: '-0.55em' }}>{children}</span>
);

const LegLine = ({ x1, x2, y, color }: any) => (
  <div style={{ position: 'absolute', left: x1, top: y - 1, width: x2 - x1, height: 2, background: color }} />
);

export default function App() {
  const topRef = useRef<HTMLCanvasElement>(null);
  const botRef = useRef<HTMLCanvasElement>(null);

  useEffect(() => {
    const common: any = {
      responsive: false,
      animation: false,
      devicePixelRatio: 1,
      events: [],
      plugins: { legend: { display: false }, tooltip: { enabled: false } },
      elements: { point: { radius: 0 }, line: { tension: 0, borderWidth: 1 } },
    };

    const poolDatasets: any[] = poolSeries.map((s, i) => ({
      label: poolLabels[i],
      data: toXY(s.data, s.dt, s.half),
      borderColor: poolColors[i],
      borderWidth: poolWidths[i],
      borderJoinStyle: 'miter',
      yAxisID: 'y',
      order: poolSeries.length - i,
    }));
    poolDatasets.push({
      label: 'G',
      data: gTime.map((t, i) => ({ x: t, y: gFlux[i] })),
      borderColor: G_COLOR,
      borderWidth: 3,
      yAxisID: 'y2',
      order: 0,
    });

    const top = new Chart(topRef.current!, {
      type: 'line',
      data: { datasets: poolDatasets },
      options: {
        ...common,
        layout: { padding: { top: 17, bottom: 16, left: 0, right: 0 } },
        scales: {
          x: { type: 'linear', min: 0, max: 6000, display: false },
          y: {
            type: 'linear', position: 'left', min: 24, max: 45,
            afterBuildTicks: (a: any) => { a.ticks = poolTicks.map((v) => ({ value: v })); },
            afterFit: (a: any) => { a.width = 82; },
            grid: { display: false, drawTicks: false },
            border: { display: false },
            ticks: { font: tickFont, color: AXIS_COLOR, padding: 10, callback: (v: any) => `${v}` },
          },
          y2: {
            type: 'linear', position: 'right', min: 15, max: 162,
            afterBuildTicks: (a: any) => { a.ticks = gTicks.map((v) => ({ value: v })); },
            afterFit: (a: any) => { a.width = 116; },
            grid: { display: false, drawTicks: false },
            border: { display: false },
            ticks: { font: tickFont, color: G_COLOR, padding: 10, callback: (v: any) => `${v}` },
          },
        },
      },
      plugins: [poolFrame],
    } as any);

    const bot = new Chart(botRef.current!, {
      type: 'line',
      data: {
        datasets: spargerSeries.map((s, i) => ({
          label: spargerLabels[i],
          data: toXY(s.data, s.dt, s.half),
          borderColor: spargerColors[i],
          borderWidth: spargerWidths[i],
          borderJoinStyle: 'miter',
          order: spargerSeries.length - i,
        })),
      },
      options: {
        ...common,
        layout: { padding: { top: 15, bottom: 0, left: 0, right: 116 } },
        scales: {
          x: {
            type: 'linear', position: 'bottom', min: 0, max: 6000,
            afterBuildTicks: (a: any) => { a.ticks = timeTicks.map((v) => ({ value: v })); },
            afterFit: (a: any) => { a.height = 65; },
            grid: { display: false, drawTicks: false },
            border: { display: false },
            ticks: { font: tickFont, color: AXIS_COLOR, padding: 7, maxRotation: 0, autoSkip: false, callback: (v: any) => `${v}` },
          },
          y: {
            type: 'linear', position: 'left', min: 20, max: 120,
            afterBuildTicks: (a: any) => { a.ticks = spargerTicks.map((v) => ({ value: v })); },
            afterFit: (a: any) => { a.width = 82; },
            grid: { display: false, drawTicks: false },
            border: { display: false },
            ticks: { font: tickFont, color: AXIS_COLOR, padding: 10, callback: (v: any) => `${v}` },
          },
        },
      },
      plugins: [spargerFrame],
    } as any);

    return () => {
      top.destroy();
      bot.destroy();
    };
  }, []);

  const poolRowBase = [72.7, 94.6, 116.5, 138.4];

  return (
    <div style={{ position: 'fixed', left: 0, top: 0, width: 888, height: 691, background: '#fff', overflow: 'hidden' }}>
      <canvas ref={topRef} width={888} height={320} style={{ position: 'absolute', left: 0, top: 0 }} />
      <canvas ref={botRef} width={888} height={381} style={{ position: 'absolute', left: 0, top: 310 }} />

      {/* top legend */}
      <Txt x={101} base={53} size={22}>TCs inside pool</Txt>
      {poolLabels.map((lab, i) => {
        const col = i < 4 ? 0 : 1;
        const row = i % 4;
        const base = poolRowBase[row];
        const lx = col === 0 ? 102 : 220;
        const tx = col === 0 ? 139 : 256;
        return (
          <React.Fragment key={lab + i}>
            <LegLine x1={lx} x2={lx + 34} y={base - 6.5} color={poolColors[i]} />
            <Txt x={tx} base={base} size={17.5}>{lab}</Txt>
          </React.Fragment>
        );
      })}

      {/* G annotation */}
      <Txt x={588} base={203} size={23} color={G_COLOR}>
        G = 63 kg/(m<Sup>2</Sup>s)
      </Txt>

      {/* axis titles */}
      <CTxt cx={34} cy={160.5} size={25} rotate>T [<Sup>o</Sup>C]</CTxt>
      <CTxt cx={843} cy={162} size={25} rotate color={G_COLOR}>G [kg/(m<Sup>2</Sup>s)]</CTxt>
      <CTxt cx={23} cy={475.5} size={25} rotate>T [<Sup>o</Sup>C]</CTxt>
      <CTxt cx={427} cy={677} size={25}>t [s]</CTxt>

      {/* bottom legend */}
      <Txt x={101} base={353.3} size={22}>TCs inside sparger</Txt>
      <Txt x={817} base={406.7} size={22}>z [mm]</Txt>
      {spargerLabels.map((lab, i) => {
        const base = 439.4 + 21.8 * i;
        return (
          <React.Fragment key={lab}>
            <LegLine x1={814} x2={848} y={base - 6.5} color={spargerColors[i]} />
            <Txt x={851} base={base} size={18}>{lab}</Txt>
          </React.Fragment>
        );
      })}
    </div>
  );
}
